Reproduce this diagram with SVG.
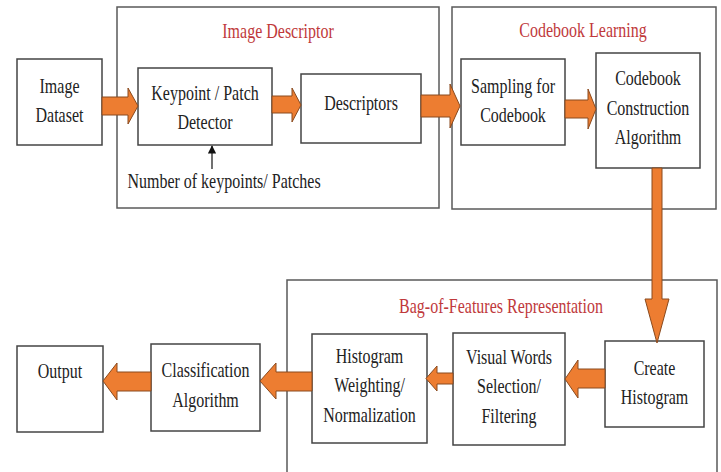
<svg xmlns="http://www.w3.org/2000/svg" width="721" height="472" viewBox="0 0 721 472">
<defs>
<style>
.cont{fill:none;stroke:#5a5a5a;stroke-width:1.5}
.box{fill:#fff;stroke:#444;stroke-width:1.5}
text{font-family:'Liberation Serif','DejaVu Serif',serif;font-size:16px;text-anchor:middle}
.t{fill:#222}
.title{fill:#c0393b}
.arr{fill:#ED7D31;stroke:#8a4a1e;stroke-width:1}
</style>
<marker id="ah" viewBox="0 0 10 10" refX="9" refY="5" markerWidth="7" markerHeight="7" orient="auto">
<path d="M0,0 L10,5 L0,10 Z" fill="#111"/>
</marker>
</defs>
<rect width="721" height="472" fill="#fff"/>
<g id="image-descriptor">
<rect class="cont" x="117" y="7" width="322" height="201"/>
<text class="title" transform="translate(278,38) scale(1,1.3)">Image Descriptor</text>
</g>
<g id="codebook-learning">
<rect class="cont" x="452" y="7" width="264" height="202"/>
<text class="title" transform="translate(583,37) scale(1,1.3)">Codebook Learning</text>
</g>
<g id="bag-of-features">
<path class="cont" d="M287,473 V280 H717 V473"/>
<text class="title" transform="translate(501,313) scale(1,1.3)">Bag-of-Features Representation</text>
</g>
<g id="image-dataset">
<rect class="box" x="17" y="59" width="85" height="86"/>
<text class="t" transform="translate(59.5,93) scale(1,1.3)">Image</text>
<text class="t" transform="translate(59.5,122) scale(1,1.3)">Dataset</text>
</g>
<g id="keypoint-detector">
<rect class="box" x="138" y="68" width="134" height="77"/>
<text class="t" transform="translate(205,100) scale(1,1.3)">Keypoint / Patch</text>
<text class="t" transform="translate(205,129) scale(1,1.3)">Detector</text>
</g>
<g id="descriptors">
<rect class="box" x="301" y="74" width="120" height="69"/>
<text class="t" transform="translate(361,110) scale(1,1.3)">Descriptors</text>
</g>
<g id="num-keypoints">
<text class="t" transform="translate(224,188) scale(1,1.3)">Number of keypoints/ Patches</text>
</g>
<g id="sampling">
<rect class="box" x="461" y="59" width="104" height="86"/>
<text class="t" transform="translate(513,93) scale(1,1.3)">Sampling for</text>
<text class="t" transform="translate(513,122) scale(1,1.3)">Codebook</text>
</g>
<g id="codebook-construction">
<rect class="box" x="596" y="53" width="104" height="115"/>
<text class="t" transform="translate(648,85) scale(1,1.3)">Codebook</text>
<text class="t" transform="translate(648,115) scale(1,1.3)">Construction</text>
<text class="t" transform="translate(648,144) scale(1,1.3)">Algorithm</text>
</g>
<g id="create-histogram">
<rect class="box" x="605" y="341" width="99" height="86"/>
<text class="t" transform="translate(654.5,375) scale(1,1.3)">Create</text>
<text class="t" transform="translate(654.5,404) scale(1,1.3)">Histogram</text>
</g>
<g id="visual-words">
<rect class="box" x="453" y="333" width="112" height="112"/>
<text class="t" transform="translate(509,364) scale(1,1.3)">Visual Words</text>
<text class="t" transform="translate(509,393) scale(1,1.3)">Selection/</text>
<text class="t" transform="translate(509,423) scale(1,1.3)">Filtering</text>
</g>
<g id="histogram-weighting">
<rect class="box" x="312" y="334" width="115" height="109"/>
<text class="t" transform="translate(369.5,363) scale(1,1.3)">Histogram</text>
<text class="t" transform="translate(369.5,392) scale(1,1.3)">Weighting/</text>
<text class="t" transform="translate(369.5,422) scale(1,1.3)">Normalization</text>
</g>
<g id="classification">
<rect class="box" x="151" y="344" width="109" height="87"/>
<text class="t" transform="translate(205.5,377) scale(1,1.3)">Classification</text>
<text class="t" transform="translate(205.5,407) scale(1,1.3)">Algorithm</text>
</g>
<g id="output">
<rect class="box" x="17" y="346" width="86" height="86"/>
<text class="t" transform="translate(60,378) scale(1,1.3)">Output</text>
</g>
<g id="connectors">
<polygon class="arr" points="102,97 128,97 128,88 138,106 128,124 128,115 102,115"/>
<polygon class="arr" points="272,96 292,96 292,88 301,105 292,122 292,113 272,113"/>
<polygon class="arr" points="421,95 450,95 450,84 460,106 450,128 450,117 421,117"/>
<polygon class="arr" points="565,100 588,100 588,89 596,109 588,129 588,118 565,118"/>
<polygon class="arr" points="652,168 662,168 662,299 669,299 657,343 645,299 652,299"/>
<polygon class="arr" points="605,369 578,369 578,360 565,379 578,398 578,388 605,388"/>
<polygon class="arr" points="453,373 437,373 437,366 426,378.5 437,391 437,384 453,384"/>
<polygon class="arr" points="312,372 276,372 276,363 260,381 276,399 276,391 312,391"/>
<polygon class="arr" points="151,372 117,372 117,363 103,381 117,400 117,391 151,391"/>
<line x1="212" y1="169" x2="212" y2="146" stroke="#111" stroke-width="1.2" marker-end="url(#ah)"/>
</g>
</svg>
